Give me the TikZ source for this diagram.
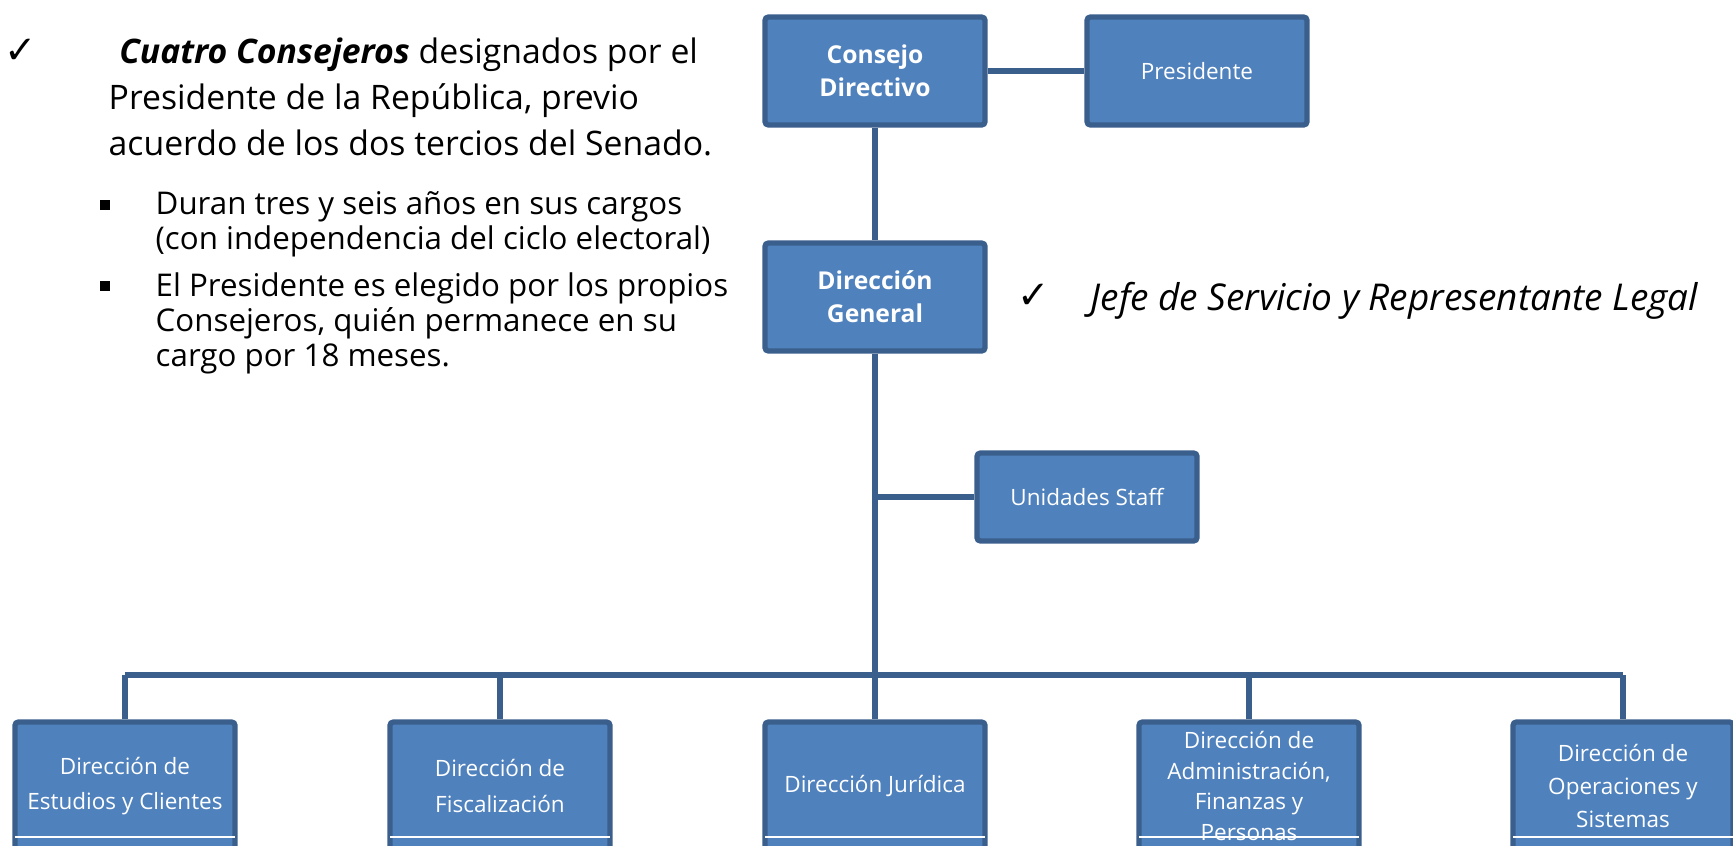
\documentclass[tikz,border=0pt]{standalone}
\usepackage{fontspec}
\setmainfont{Open Sans}
\newfontfamily\symfont{DejaVu Sans}
\definecolor{boxfill}{HTML}{4F81BD}
\definecolor{boxline}{HTML}{3A5F8D}

\tikzset{
  orgbox/.style={shape=rectangle, draw=boxline, fill=boxfill, line width=1.5pt,
    rounded corners=1pt, minimum width=2.2cm, minimum height=1.08cm,
    text=white, align=center, inner sep=1pt, font=\fontsize{6.4}{10}\selectfont},
  headbox/.style={orgbox, font=\fontsize{7}{9.4}\selectfont\bfseries},
  unitbox/.style={orgbox, minimum height=1.28cm},
  conn/.style={draw=boxline, line width=1.5pt},
  maintext/.style={inner sep=0pt, align=left, font=\fontsize{9.6}{13.1}\selectfont},
  subtext/.style={inner sep=0pt, align=left, font=\fontsize{8.9}{10}\selectfont},
  tick/.style={inner sep=0pt, font=\symfont\fontsize{11}{11}\selectfont\bfseries},
  square/.style={fill=black, inner sep=0pt, minimum size=2.6pt}
}

\begin{document}
\begin{tikzpicture}[x=0.01cm, y=-0.01cm]
\useasboundingbox (0,0) rectangle (1733,845);
\clip (0,0) rectangle (1733,845);

% text on the left
\node[tick] (tick1) at (21,51) {✓};
\node[maintext, anchor=north west] (cuatro) at (108,37)
  {\hspace*{3pt}\textbf{\textit{Cuatro Consejeros}} designados por el\\
   Presidente de la República, previo\\
   acuerdo de los dos tercios del Senado.};
\node[square] (sq1) at (105,205) {};
\node[subtext, anchor=north west] (duran) at (155,191)
  {Duran tres y seis años en sus cargos\\(con independencia del ciclo electoral)};
\node[square] (sq2) at (105,286) {};
\node[subtext, anchor=north west] (elegido) at (155,272)
  {El Presidente es elegido por los propios\\Consejeros, quién permanece en su\\cargo por 18 meses.};

% text on the right
\node[tick] (tick2) at (1034,296) {✓};
\node[maintext, anchor=west, font=\fontsize{10.5}{13.1}\selectfont\itshape] (jefe) at (1090,301)
  {Jefe de Servicio y Representante Legal};

% boxes
\node[headbox] (consejo)  at ( 875, 71) {Consejo\\Directivo};
\node[orgbox]  (pres)     at (1197, 71) {Presidente};
\node[headbox] (general)  at ( 875,297) {Dirección\\General};
\node[orgbox, minimum height=0.88cm] (staff) at (1087,497) {Unidades Staff};

\node[unitbox] (estudios) at ( 125,786) {Dirección de\\Estudios y Clientes};
\node[unitbox] (fiscal)   at ( 500,786) {Dirección de\\Fiscalización};
\node[unitbox] (juridica) at ( 875,786) {Dirección Jurídica};
\node[unitbox, font=\fontsize{6.4}{8.8}\selectfont] (admin) at (1249,786)
  {Dirección de\\Administración,\\Finanzas y\\Personas};
\node[unitbox, font=\fontsize{6.4}{9.3}\selectfont] (operac) at (1623,786)
  {Dirección de\\Operaciones y\\Sistemas};

\coordinate (bus) at (875,675);
\coordinate (cut) at (0,837);

% connectors
\path[conn] (consejo) edge (pres)
            (consejo) edge (general)
            (general.south) edge (bus)
            (general |- staff) edge (staff)
            (estudios |- bus) edge (operac |- bus)
            (estudios |- bus) edge (estudios)
            (fiscal |- bus)   edge (fiscal)
            (juridica |- bus) edge (juridica)
            (admin |- bus)    edge (admin)
            (operac |- bus)   edge (operac);

% white rule inside the lower boxes
\path[draw=white, line width=0.4pt, shorten <=0.75pt, shorten >=0.75pt]
  (estudios.west |- cut) edge (estudios.east |- cut)
  (fiscal.west |- cut)   edge (fiscal.east |- cut)
  (juridica.west |- cut) edge (juridica.east |- cut)
  (admin.west |- cut)    edge (admin.east |- cut)
  (operac.west |- cut)   edge (operac.east |- cut);
\end{tikzpicture}
\end{document}
